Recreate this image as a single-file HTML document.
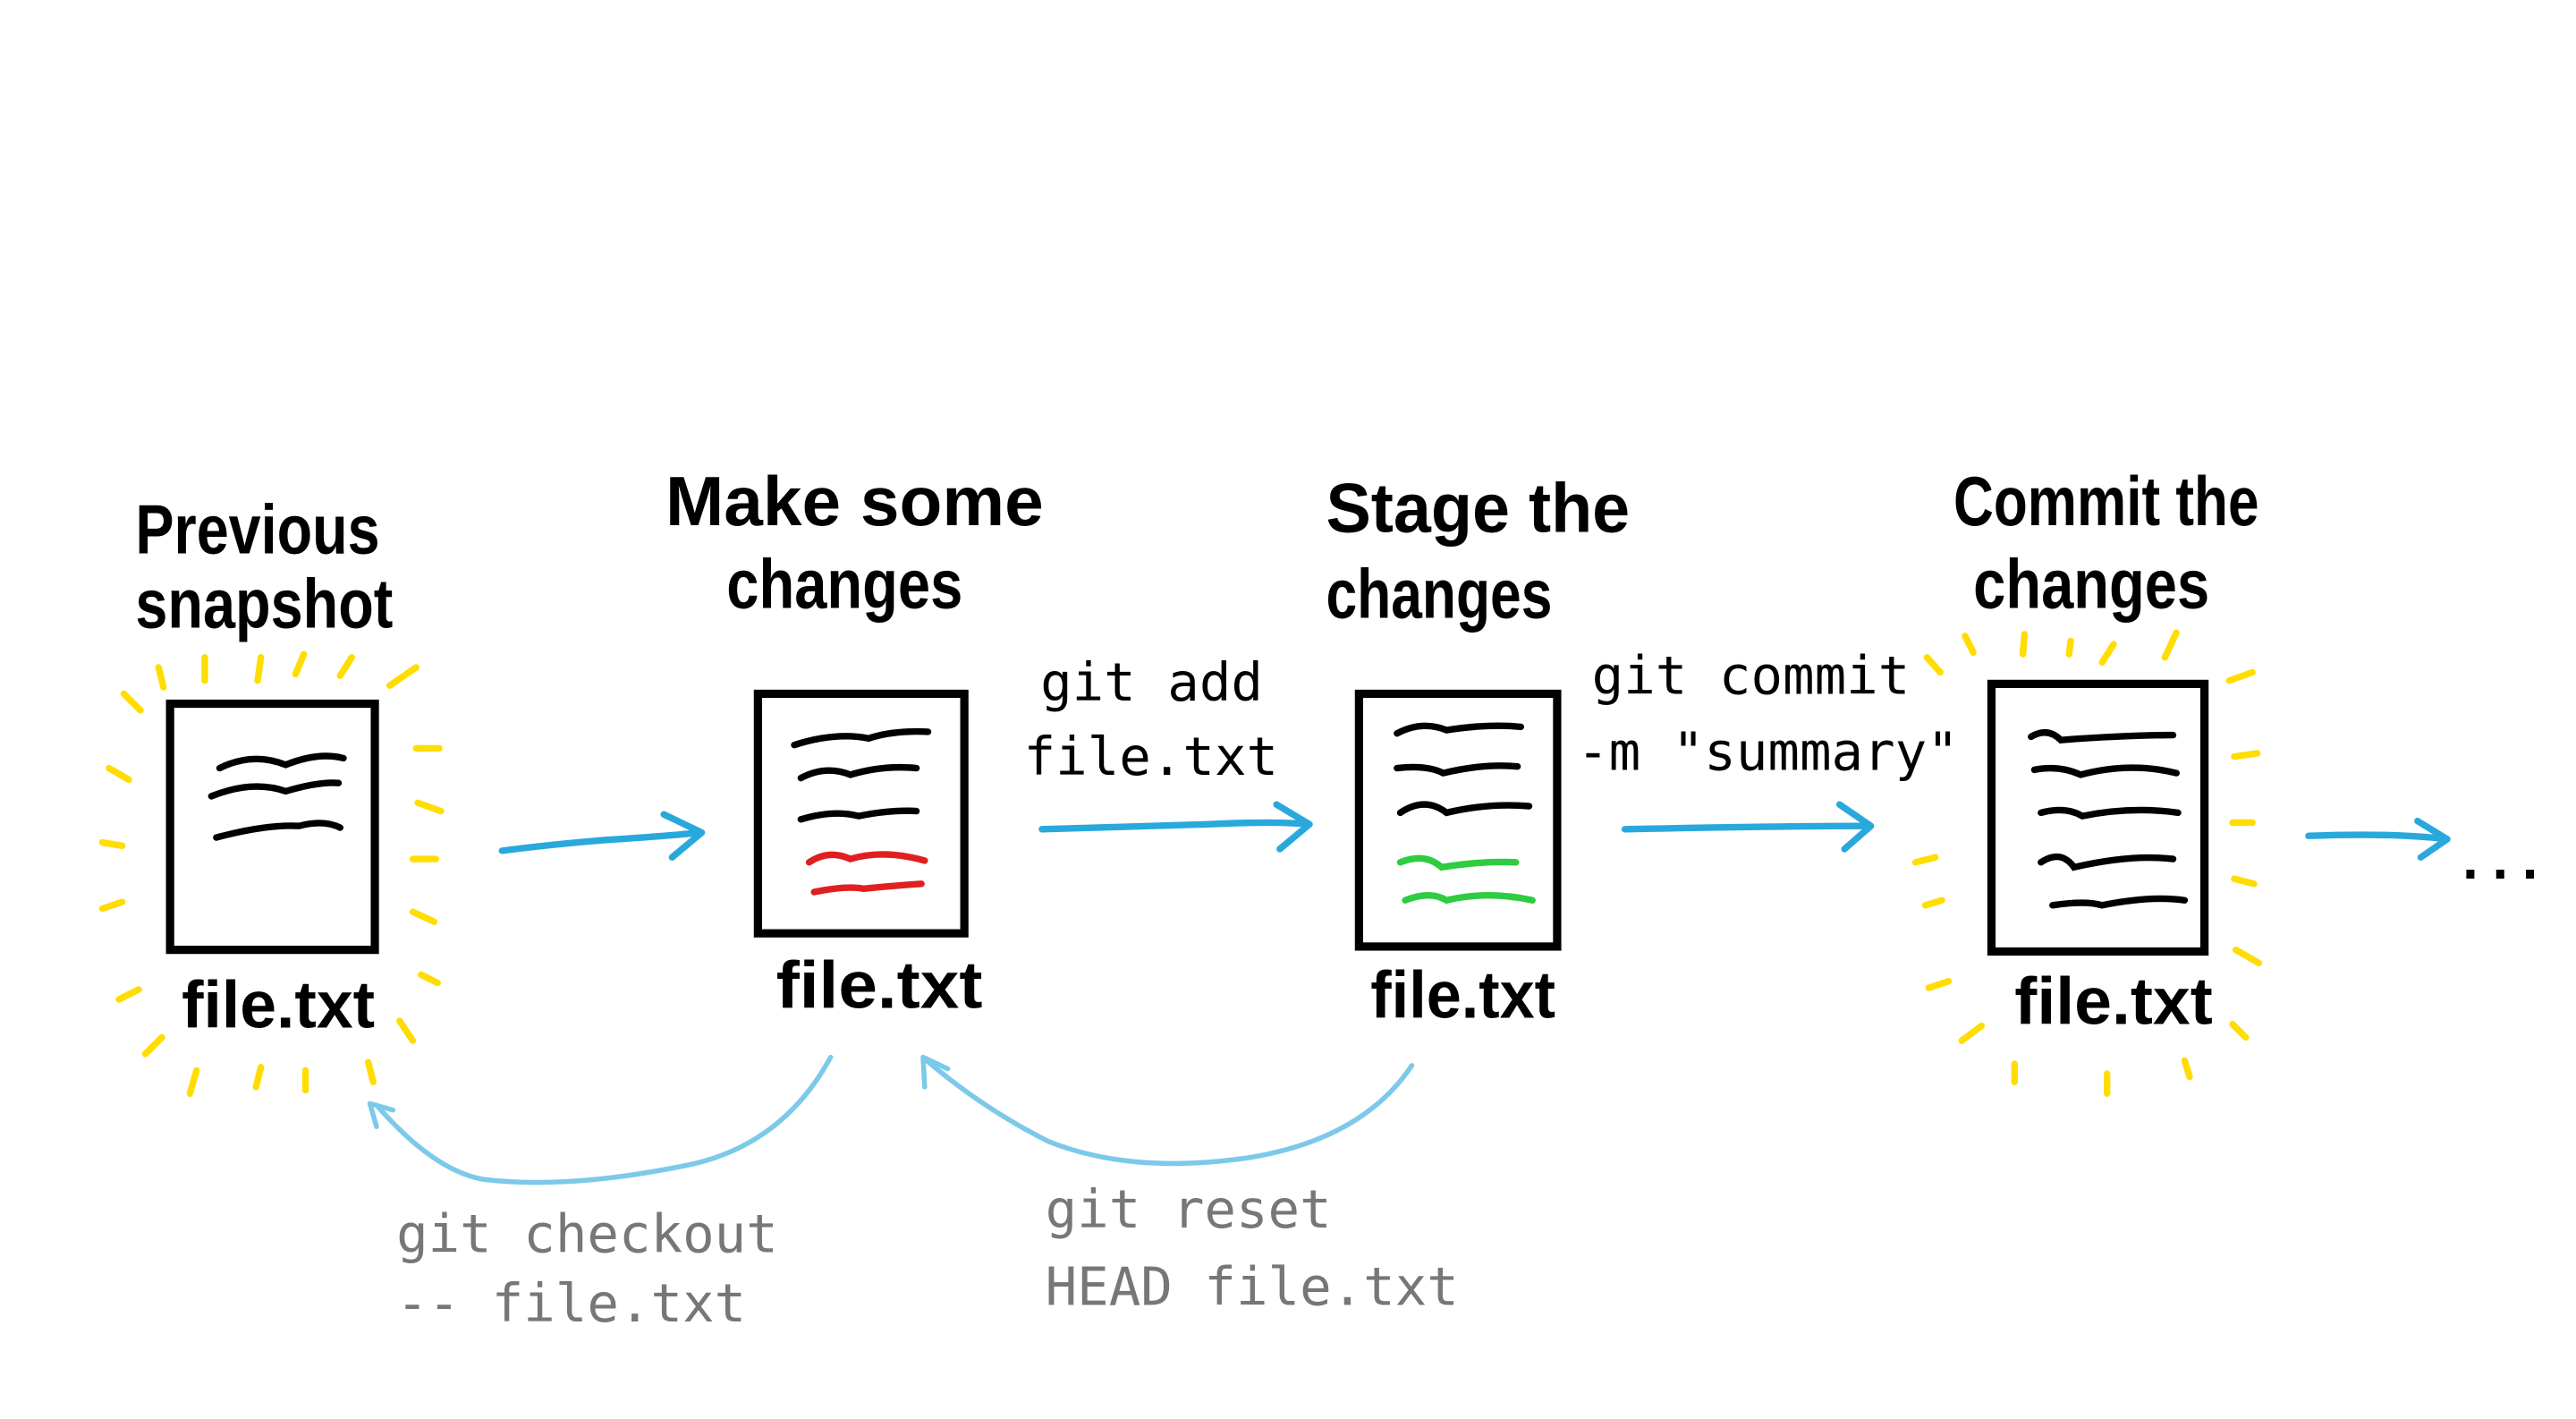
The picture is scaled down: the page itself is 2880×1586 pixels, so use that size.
<!DOCTYPE html>
<html><head><meta charset="utf-8"><style>
html,body{margin:0;padding:0;background:#fff;}
svg{display:block;}
.h{font-family:"Liberation Sans",sans-serif;font-size:42px;fill:#000;font-weight:bold;}
.f{font-family:"Liberation Sans",sans-serif;font-size:40px;fill:#000;font-weight:bold;}
.m{font-family:"DejaVu Sans Mono","Liberation Mono",monospace;font-size:32px;fill:#000;}
.g{font-family:"DejaVu Sans Mono","Liberation Mono",monospace;font-size:32px;fill:#777;}
.box{fill:none;stroke:#000;stroke-width:5;stroke-linecap:round;}
.ln{fill:none;stroke:#000;stroke-width:4;stroke-linecap:round;}
.r{fill:none;stroke:#e02020;stroke-width:4;stroke-linecap:round;}
.gr{fill:none;stroke:#2ecc40;stroke-width:4;stroke-linecap:round;}
.y{fill:none;stroke:#ffdd00;stroke-width:4;stroke-linecap:round;}
.a{fill:none;stroke:#29a8dc;stroke-width:4;stroke-linecap:round;stroke-linejoin:round;}
.c{fill:none;stroke:#7cc9ea;stroke-width:3;stroke-linecap:round;stroke-linejoin:round;}
</style></head><body>
<svg width="2880" height="1586" viewBox="0 0 1560 859" preserveAspectRatio="none">
<!-- titles -->
<text class="h" x="82" y="335" textLength="148" lengthAdjust="spacingAndGlyphs">Previous</text>
<text class="h" x="82" y="380" textLength="156" lengthAdjust="spacingAndGlyphs">snapshot</text>
<text class="h" x="403" y="318" textLength="229" lengthAdjust="spacingAndGlyphs">Make some</text>
<text class="h" x="440" y="368" textLength="143" lengthAdjust="spacingAndGlyphs">changes</text>
<text class="h" x="803" y="322" textLength="184" lengthAdjust="spacingAndGlyphs">Stage the</text>
<text class="h" x="803" y="374" textLength="137" lengthAdjust="spacingAndGlyphs">changes</text>
<text class="h" x="1183" y="318" textLength="185" lengthAdjust="spacingAndGlyphs">Commit the</text>
<text class="h" x="1195" y="368" textLength="143" lengthAdjust="spacingAndGlyphs">changes</text>

<!-- doc1 -->
<rect class="box" x="103" y="426" width="124" height="149"/>
<path class="ln" d="M133 465 q20 -10 40 -2 q20 -8 35 -4"/>
<path class="ln" d="M128 482 q25 -10 45 -3 q20 -6 32 -5"/>
<path class="ln" d="M131 507 q30 -8 50 -7 q15 -4 25 1"/>
<text class="f" x="110" y="622" textLength="117" lengthAdjust="spacingAndGlyphs">file.txt</text>

<!-- doc2 -->
<rect class="box" x="459" y="420" width="125" height="145"/>
<path class="ln" d="M481 451 q25 -8 45 -4 q15 -5 36 -4"/>
<path class="ln" d="M485 471 q15 -8 30 -2 q20 -6 40 -4"/>
<path class="ln" d="M485 496 q20 -6 35 -2 q20 -4 35 -3"/>
<path class="r" d="M490 522 q12 -8 25 -2 q20 -6 45 1"/>
<path class="r" d="M493 540 q20 -4 30 -2 q20 -2 35 -3"/>
<text class="f" x="470" y="610" textLength="125" lengthAdjust="spacingAndGlyphs">file.txt</text>

<!-- doc3 -->
<rect class="box" x="823" y="420" width="120" height="153"/>
<path class="ln" d="M846 444 q15 -8 30 -2 q25 -4 45 -2"/>
<path class="ln" d="M846 465 q18 -2 28 3 q25 -6 45 -4"/>
<path class="ln" d="M848 492 q15 -10 28 0 q25 -6 50 -4"/>
<path class="gr" d="M848 522 q15 -6 25 3 q25 -4 45 -3"/>
<path class="gr" d="M851 545 q15 -6 25 0 q25 -6 52 0"/>
<text class="f" x="830" y="616" textLength="112" lengthAdjust="spacingAndGlyphs">file.txt</text>

<!-- doc4 -->
<rect class="box" x="1206" y="414" width="129" height="162"/>
<path class="ln" d="M1230 446 q10 -6 18 2 q40 -3 68 -3"/>
<path class="ln" d="M1232 466 q15 -3 28 3 q30 -8 58 -1"/>
<path class="ln" d="M1236 492 q15 -4 25 2 q30 -6 58 -2"/>
<path class="ln" d="M1236 522 q12 -8 20 3 q35 -8 60 -5"/>
<path class="ln" d="M1243 548 q20 -3 30 0 q30 -6 50 -3"/>
<text class="f" x="1220" y="620" textLength="120" lengthAdjust="spacingAndGlyphs">file.txt</text>

<!-- yellow rays doc1 -->
<g class="y">
<path d="M96 404 l3 12"/><path d="M124 398 v14"/><path d="M158 398 l-2 14"/><path d="M184 396 l-5 12"/><path d="M213 398 l-7 11"/><path d="M252 404 l-16 11"/>
<path d="M75 420 l10 10"/><path d="M66 465 l12 7"/><path d="M62 510 l12 2"/><path d="M62 550 l12 -4"/>
<path d="M252 453 h14"/><path d="M253 486 l14 5"/><path d="M250 520 h14"/><path d="M250 552 l13 6"/><path d="M255 590 l10 5"/>
<path d="M72 605 l12 -6"/><path d="M88 638 l10 -10"/><path d="M115 662 l4 -14"/><path d="M155 658 l3 -12"/><path d="M185 660 v-12"/><path d="M226 655 l-3 -12"/><path d="M250 630 l-8 -12"/>
</g>
<!-- yellow rays doc4 -->
<g class="y">
<path d="M1190 385 l5 10"/><path d="M1226 384 l-1 12"/><path d="M1254 388 l-1 8"/><path d="M1280 390 l-7 11"/><path d="M1318 383 l-7 15"/><path d="M1167 398 l8 9"/>
<path d="M1350 412 l14 -5"/><path d="M1353 458 l14 -2"/><path d="M1352 498 h12"/><path d="M1353 532 l12 3"/><path d="M1354 575 l14 8"/><path d="M1352 620 l8 8"/>
<path d="M1160 522 l12 -3"/><path d="M1166 548 l10 -3"/><path d="M1168 598 l12 -4"/><path d="M1188 630 l12 -9"/><path d="M1220 655 l0 -11"/><path d="M1276 662 v-12"/><path d="M1326 652 l-3 -10"/>
</g>

<!-- mono labels -->
<text class="m" x="630" y="424">git add</text>
<text class="m" x="620" y="469">file.txt</text>
<text class="m" x="964" y="420">git commit</text>
<text class="m" x="955" y="466">-m "summary"</text>
<text class="g" x="240" y="758">git checkout</text>
<text class="g" x="240" y="800">-- file.txt</text>
<text class="g" x="633" y="743">git reset</text>
<text class="g" x="633" y="790">HEAD file.txt</text>

<!-- forward arrows -->
<path class="a" d="M304 515 q40 -5 70 -7 q30 -2 50 -4"/><path class="a" d="M402 493 l23 11 l-18 15"/>
<path class="a" d="M631 502 q60 -2 100 -3 q40 -2 62 0"/><path class="a" d="M773 487 l20 12 l-18 15"/>
<path class="a" d="M984 502 q90 -2 148 -2"/><path class="a" d="M1114 487 l19 13 l-16 14"/>
<path class="a" d="M1398 506 q50 -2 84 2"/><path class="a" d="M1464 497 l18 11 l-16 11"/>
<text class="m" x="1487" y="532" style="font-size:30px;font-weight:bold">...</text>

<!-- return arrows -->
<path class="c" d="M503 640 q-30 55 -90 66 q-70 14 -120 8 q-30 -5 -65 -45"/>
<path class="c" d="M228 682 l-4 -14 l14 4"/>
<path class="c" d="M855 645 q-30 45 -100 56 q-70 10 -120 -10 q-40 -20 -75 -50"/>
<path class="c" d="M560 658 l-1 -18 l15 7"/>
</svg>
</body></html>
